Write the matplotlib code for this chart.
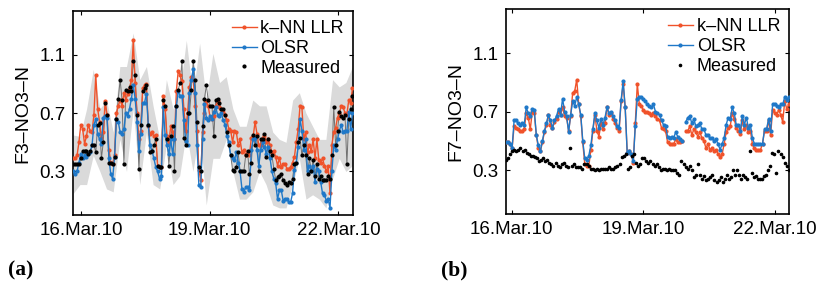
"""
Two-panel NO3-N comparison: k-NN LLR vs OLSR vs measured (F3 and F7).
"""

import numpy as np
import pandas as pd
import matplotlib
matplotlib.use("Agg")
import matplotlib.pyplot as plt
import matplotlib.dates as mdates

# --- panel (a): F3 ---
a_start, a_end = '2010-03-15 19:40', '2010-03-22 07:50'
a_knn = [0.39, 0.39, 0.41, 0.50, 0.62, 0.59, 0.49, 0.54, 0.62, 0.58, 0.57, 0.69, 0.96, 0.73,
         0.64, 0.53, 0.57, 0.78, 0.69, 0.45, 0.36, 0.35, 0.41, 0.70, 0.75, 0.79, 0.75, 0.84,
         0.79, 0.83, 0.87, 0.93, 1.20, 0.91, 0.70, 0.52, 0.58, 0.87, 0.89, 0.90, 0.61, 0.56,
         0.57, 0.54, 0.55, 0.34, 0.33, 0.33, 0.82, 0.73, 0.54, 0.50, 0.61, 0.57, 0.52, 0.85,
         0.99, 0.96, 0.92, 0.73, 0.58, 0.70, 0.88, 0.95, 0.93, 0.75, 0.58, 0.31, 0.24, 0.57,
         0.70, 0.78, 0.75, 0.67, 0.66, 0.68, 0.75, 0.78, 0.74, 0.73, 0.71, 0.69, 0.65, 0.59,
         0.58, 0.50, 0.58, 0.57, 0.48, 0.52, 0.43, 0.45, 0.41, 0.43, 0.41, 0.53, 0.54, 0.64,
         0.56, 0.48, 0.48, 0.53, 0.54, 0.50, 0.52, 0.48, 0.43, 0.44, 0.40, 0.34, 0.39, 0.33,
         0.35, 0.35, 0.32, 0.32, 0.33, 0.36, 0.40, 0.50, 0.59, 0.75, 0.74, 0.52, 0.57, 0.43,
         0.48, 0.44, 0.52, 0.39, 0.52, 0.38, 0.36, 0.39, 0.34, 0.30, 0.34, 0.15, 0.48, 0.57,
         0.60, 0.67, 0.70, 0.75, 0.74, 0.70, 0.69, 0.79, 0.77, 0.87]
a_olsr = [0.30, 0.28, 0.30, 0.36, 0.42, 0.39, 0.41, 0.40, 0.42, 0.43, 0.48, 0.62, 0.66,
          0.56, 0.52, 0.49, 0.67, 0.68, 0.67, 0.39, 0.28, 0.25, 0.40, 0.66, 0.64, 0.57,
          0.56, 0.59, 0.70, 0.68, 0.73, 0.80, 0.89, 0.80, 0.64, 0.44, 0.56, 0.77, 0.77, 0.83,
          0.62, 0.48, 0.44, 0.39, 0.33, 0.30, 0.25, 0.27, 0.74, 0.55, 0.48, 0.42, 0.52, 0.42,
          0.52, 0.75, 0.85, 0.82, 0.82, 0.65, 0.51, 0.48, 0.84, 0.93, 1.00, 0.84, 0.48, 0.21,
          0.19, 0.52, 0.76, 0.67, 0.65, 0.68, 0.66, 0.71, 0.74, 0.69, 0.68, 0.70, 0.65, 0.62,
          0.54, 0.50, 0.41, 0.39, 0.38, 0.43, 0.36, 0.30, 0.18, 0.16, 0.19, 0.19, 0.17, 0.45,
          0.52, 0.53, 0.45, 0.34, 0.45, 0.50, 0.47, 0.42, 0.47, 0.39, 0.30, 0.25, 0.22, 0.11,
          0.17, 0.17, 0.10, 0.11, 0.11, 0.09, 0.09, 0.15, 0.31, 0.36, 0.47, 0.66, 0.58, 0.45,
          0.52, 0.30, 0.34, 0.30, 0.34, 0.23, 0.32, 0.30, 0.23, 0.15, 0.14, 0.10, 0.11, 0.05,
          0.30, 0.48, 0.45, 0.52, 0.58, 0.62, 0.57, 0.58, 0.58, 0.71, 0.59, 0.70]
a_meas = [0.35, 0.35, 0.35, 0.35, 0.39, 0.44, 0.44, 0.44, 0.42, 0.44,
          0.48, 0.48, 0.43, 0.62, 0.63, 0.39, 0.50, 0.77, 0.69, 0.36,
          0.36, 0.35, 0.40, 0.66, 0.80, 0.93, 0.79, 0.35, 0.86, 0.85,
          0.88, 0.85, 1.06, 0.96, 0.69, 0.32, 0.62, 0.85, 0.87, 0.89,
          0.62, 0.43, 0.44, 0.48, 0.52, 0.34, 0.33, 0.33, 0.79, 0.75,
          0.52, 0.34, 0.54, 0.61, 0.30, 0.75, 0.86, 0.91, 1.06, 0.53,
          0.48, 0.70, 0.70, 0.86, 1.06, 0.93, 0.64, 0.33, 0.30, 0.61,
          0.80, 0.89, 0.79, 0.75, 0.75, 0.54, 0.79, 0.80, 0.77, 0.73,
          0.73, 0.69, 0.57, 0.48, 0.41, 0.31, 0.30, 0.33, 0.43, 0.30,
          0.30, 0.30, 0.41, 0.44, 0.28, 0.36, 0.55, 0.48, 0.54, 0.30,
          0.52, 0.52, 0.56, 0.40, 0.52, 0.44, 0.41, 0.32, 0.24, 0.26,
          0.27, 0.28, 0.24, 0.22, 0.21, 0.23, 0.22, 0.25, 0.35, 0.36,
          0.50, 0.53, 0.41, 0.48, 0.41, 0.28, 0.39, 0.30, 0.38, 0.27,
          0.35, 0.25, 0.27, 0.24, 0.24, 0.24, 0.27, 0.25, 0.41, 0.74,
          0.48, 0.58, 0.71, 0.68, 0.67, 0.69, 0.35, 0.66, 0.73, 0.82]
a_band_lo = [0.15, 0.21, 0.21, 0.41, 0.30, 0.18, 0.16, 0.52, 0.30, 0.73, 0.21, 0.57, 0.21,
             0.18, 0.48, 0.21, 0.27, 0.57, 0.30, 0.59, 0.07, 0.39, 0.39, 0.52, 0.30, 0.11,
             0.11, 0.16, 0.30, 0.21, 0.07, 0.05, 0.05, 0.21, 0.39, 0.11, 0.14, 0.11, 0.05,
             0.25, 0.39, 0.30, 0.34]
a_band_hi = [0.55, 0.54, 0.73, 1.00, 0.73, 0.79, 0.57, 1.02, 1.02, 1.25, 0.93, 1.02, 0.75,
             0.52, 0.93, 0.73, 0.84, 1.20, 0.82, 1.18, 0.79, 1.11, 0.91, 0.95, 0.73, 0.61,
             0.61, 0.79, 0.75, 0.75, 0.57, 0.52, 0.50, 0.79, 0.84, 0.70, 0.61, 0.52, 0.52,
             0.93, 0.88, 0.91, 1.02]

# --- panel (b): F7 (NaN = missing predictions) ---
b_start, b_end = '2010-03-15 20:50', '2010-03-22 07:30'
b_knn = [0.49, 0.49, 0.48, 0.45, 0.60, 0.59, 0.58, 0.57, 0.57, 0.58, 0.69, 0.66, 0.58, 0.70,
         0.69, 0.54, 0.45, 0.43, 0.49, 0.56, 0.61, 0.68, 0.61, 0.59, 0.63, 0.65, 0.70, 0.68,
         0.73, 0.67, 0.66, 0.57, 0.67, 0.83, 0.84, 0.92, 0.75, 0.67, 0.49, 0.34, 0.33, 0.33,
         0.44, 0.57, 0.68, 0.57, 0.53, 0.62, 0.58, 0.62, 0.73, 0.68, 0.69, 0.65, 0.62, 0.59,
         0.57, 0.77, 0.89, 0.73, 0.42, 0.43, 0.41, 0.35, 0.62, 0.89, 0.75, 0.74, 0.71, 0.70,
         0.70, 0.69, 0.68, 0.69, 0.67, 0.65, 0.64, 0.59, 0.58, 0.57, 0.49, 0.48, 0.48, 0.48,
         0.51, 0.49, 0.49, 0.50, np.nan, 0.57, 0.57, 0.60, 0.54, 0.58, 0.56, 0.53, 0.56, 0.52,
         0.50, 0.45, 0.48, 0.44, 0.45, 0.43, 0.44, 0.41, 0.39, 0.41, 0.48, 0.56, 0.59, 0.60,
         0.69, 0.65, 0.59, 0.57, 0.55, 0.64, 0.58, 0.61, 0.56, 0.57, 0.48, 0.45, 0.44, 0.44,
         0.44, 0.48, 0.57, 0.57, 0.64, 0.54, 0.71, 0.69, 0.68, 0.71, 0.68, 0.63, 0.77, 0.72,
         0.75]
b_olsr = [0.49, 0.49, 0.48, 0.45, 0.64, 0.64, 0.62, 0.61, 0.62, 0.61, 0.73, 0.69, 0.67, 0.72,
          0.71, 0.54, 0.47, 0.43, 0.50, 0.57, 0.62, 0.68, 0.64, 0.59, 0.64, 0.67, 0.72, 0.68,
          0.79, 0.70, 0.67, 0.56, 0.68, 0.77, 0.74, 0.80, 0.75, 0.68, 0.50, 0.38, 0.37, 0.40,
          0.47, 0.58, 0.69, 0.64, 0.59, 0.65, 0.61, 0.66, 0.73, 0.69, 0.70, 0.67, 0.64, 0.60,
          0.59, 0.78, 0.91, 0.73, 0.42, 0.43, 0.41, 0.36, 0.60, 0.79, 0.80, 0.80, 0.79, 0.77,
          0.75, 0.74, 0.73, 0.75, 0.70, 0.69, 0.68, 0.64, 0.61, 0.60, 0.53, 0.52, 0.53, 0.52,
          0.56, 0.53, 0.51, 0.50, np.nan, 0.63, 0.66, 0.67, 0.62, 0.65, 0.60, 0.61, 0.62, 0.58,
          0.58, 0.54, 0.54, 0.52, 0.52, 0.50, 0.51, 0.48, 0.44, 0.48, 0.52, 0.61, 0.66, 0.65,
          0.73, 0.69, 0.61, 0.61, 0.57, 0.67, 0.61, 0.66, 0.59, 0.61, 0.52, 0.48, 0.48, 0.48,
          0.48, 0.48, 0.58, 0.58, 0.65, 0.57, 0.75, 0.75, 0.74, 0.73, 0.75, 0.75, 0.80, 0.78,
          0.80]
b_meas = [0.37, 0.38, 0.41, 0.43, 0.44, 0.43, 0.44, 0.45, 0.43, 0.44, 0.42, 0.41, 0.40, 0.40,
          0.39, 0.38, 0.36, 0.37, 0.38, 0.36, 0.37, 0.35, 0.34, 0.33, 0.35, 0.33, 0.32, 0.34,
          0.35, 0.33, 0.32, 0.45, 0.33, 0.34, 0.32, 0.32, 0.32, 0.31, 0.34, 0.34, 0.33, 0.31,
          0.31, 0.30, 0.31, 0.30, 0.31, 0.31, 0.31, 0.31, 0.32, 0.31, 0.31, 0.32, 0.33, 0.34,
          0.39, 0.40, 0.41, 0.31, 0.32, 0.40, 0.41, 0.35, 0.33, 0.34, 0.38, 0.38, 0.36, 0.35,
          0.36, 0.34, 0.33, 0.34, 0.32, 0.30, 0.31, 0.31, 0.30, 0.31, 0.30, 0.30, 0.30, 0.28,
          0.27, 0.36, 0.34, 0.32, 0.31, 0.33, 0.30, 0.25, 0.27, 0.34, 0.27, 0.24, 0.26, 0.23,
          0.24, 0.25, 0.27, 0.23, 0.22, 0.23, 0.25, 0.22, 0.24, 0.27, 0.24, 0.25, 0.30, 0.27,
          0.30, 0.27, 0.24, 0.27, 0.25, 0.24, 0.43, 0.28, 0.25, 0.26, 0.24, 0.24, 0.24, 0.26,
          0.27, 0.30, 0.33, 0.42, 0.41, 0.28, 0.43, 0.41, 0.39, 0.35, 0.33, 0.30]

date_ticks = ['2010-03-16', '2010-03-19', '2010-03-22']
y_ticks = [0.3, 0.7, 1.1]

RED = '#f0522a'
BLUE = '#1f78c8'

plt.rcParams['font.family'] = ['Liberation Sans', 'DejaVu Sans']
plt.rcParams['font.size'] = 11


def panel(ax, start, end, knn, olsr, meas, ylabel, xlim, band=None):
    t_knn = pd.date_range(start, end, periods=len(knn))
    t_olsr = pd.date_range(start, end, periods=len(olsr))
    t_meas = pd.date_range(start, end, periods=len(meas))
    ms_meas = 2.0
    if band is not None:
        lo, hi = band
        t_band = pd.date_range(start, end, periods=len(lo))
        ax.fill_between(t_band, lo, hi, color='#dadada', lw=0, zorder=1)
        ax.plot(t_meas, meas, color='#444444', lw=0.7, alpha=0.7, zorder=2)
    else:
        ms_meas = 1.6
    ax.plot(t_knn, knn, '-o', color=RED, lw=1.0, ms=2, label='k\u2013NN LLR', zorder=3)
    ax.plot(t_olsr, olsr, '-o', color=BLUE, lw=1.0, ms=2, label='OLSR', zorder=4)
    ax.plot(t_meas, meas, 'o', color='black', ms=ms_meas, lw=0, label='Measured', zorder=5)

    ax.set_xlim(pd.Timestamp(xlim[0]), pd.Timestamp(xlim[1]))
    ax.set_ylim(0, 1.4)
    ax.set_yticks(y_ticks)
    ax.set_yticklabels([f'{v:.1f}' for v in y_ticks])
    ax.set_xticks(pd.to_datetime(date_ticks))
    ax.xaxis.set_major_formatter(mdates.DateFormatter('%d.%b.%y'))
    ax.tick_params(direction='in', top=True, right=True, length=3, width=0.8,
                   labelsize=13.5, pad=5)
    for s in ax.spines.values():
        s.set_linewidth(1.2)
    ax.set_ylabel(ylabel.replace('-', '\u2013'), fontsize=14, labelpad=6)
    ax.legend(loc='upper right', frameon=False, handlelength=1.4, handletextpad=0.2,
              borderaxespad=0.1, labelspacing=0.15, fontsize=13)


fig = plt.figure(figsize=(8.17, 2.85), dpi=100)
ax_a = fig.add_axes([0.089, 0.245, 0.343, 0.716])
ax_b = fig.add_axes([0.619, 0.249, 0.347, 0.718])

panel(ax_a, a_start, a_end, a_knn, a_olsr, a_meas, 'F3-NO3-N',
      ('2010-03-15 19:20', '2010-03-22 08:05'), band=(a_band_lo, a_band_hi))
panel(ax_b, b_start, b_end, b_knn, b_olsr, b_meas, 'F7-NO3-N',
      ('2010-03-15 20:40', '2010-03-22 07:45'))

fig.text(0.010, 0.035, '(a)', fontsize=15.5, fontweight='bold', family='Liberation Serif')
fig.text(0.540, 0.035, '(b)', fontsize=15.5, fontweight='bold', family='Liberation Serif')

fig.savefig('out.png', dpi=100)
